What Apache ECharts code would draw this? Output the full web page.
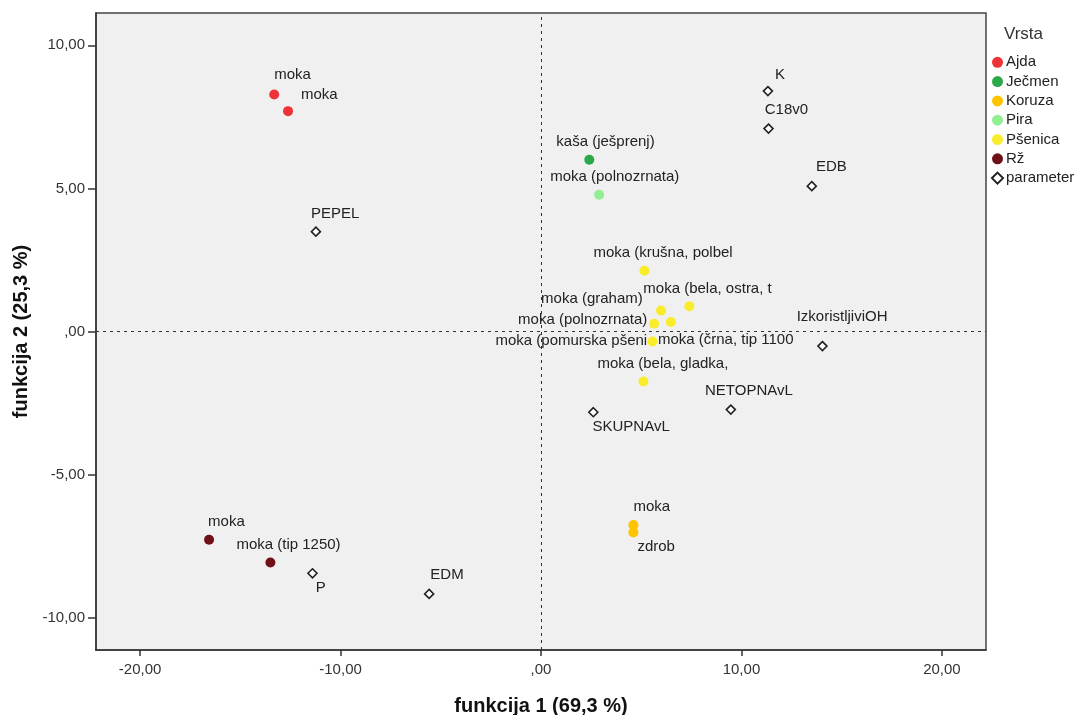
<!DOCTYPE html>
<html>
<head>
<meta charset="utf-8">
<script src="https://cdn.jsdelivr.net/npm/echarts@6/dist/echarts.min.js"></script>
<style>
html,body{margin:0;padding:0;background:#fff;}
#chart{width:1074px;height:715px;}
</style>
</head>
<body>
<div id="chart"></div>
<script>
// ---- data ----
const groups = ['Ajda', 'Ječmen', 'Koruza', 'Pira', 'Pšenica', 'Rž', 'parameter'];
const pointNames = [
  'moka', 'moka',
  'kaša (ješprenj)',
  'moka', 'zdrob',
  'moka (polnozrnata)',
  'moka (krušna, polbel', 'moka (graham)', 'moka (bela, ostra, t', 'moka (polnozrnata)',
  'moka (črna, tip 1100', 'moka (pomurska pšeni', 'moka (bela, gladka,',
  'moka', 'moka (tip 1250)',
  'K', 'C18v0', 'EDB', 'PEPEL', 'IzkoristljiviOH', 'NETOPNAvL', 'SKUPNAvL', 'P', 'EDM'
];
const pointGroup = [
  'Ajda', 'Ajda',
  'Ječmen',
  'Koruza', 'Koruza',
  'Pira',
  'Pšenica', 'Pšenica', 'Pšenica', 'Pšenica', 'Pšenica', 'Pšenica', 'Pšenica',
  'Rž', 'Rž',
  'parameter', 'parameter', 'parameter', 'parameter', 'parameter', 'parameter', 'parameter', 'parameter', 'parameter'
];
const func1 = [
  -13.31, -12.62,
  2.41,
  4.61, 4.61,
  2.90,
  5.16, 5.99, 7.40, 5.64, 6.48, 5.56, 5.11,
  -16.56, -13.50,
  11.32, 11.35, 13.51, -11.23, 14.04, 9.47, 2.61, -11.40, -5.58
];
const func2 = [
  8.28, 7.70,
  6.00,
  -6.76, -7.02,
  4.78,
  2.12, 0.73, 0.88, 0.27, 0.33, -0.35, -1.75,
  -7.28, -8.07,
  8.40, 7.09, 5.08, 3.49, -0.51, -2.73, -2.82, -8.45, -9.17
];
const xTicks = [-20, -10, 0, 10, 20];
const yTicks = [-10, -5, 0, 5, 10];

// ---- layout / style (label offsets: text left edge & vertical centre relative to the mark) ----
const labelOffsets = [
  [0, -20], [13, -16],
  [-33, -18],
  [0, -18], [4, 14],
  [-49, -18],
  [-51, -18], [-120, -12], [-46, -17], [-136, -4], [-13, 18], [-157, -1], [-46, -18],
  [-1, -18], [-34, -18],
  [8, -15], [-3, -18], [5, -18], [-4, -17], [-25, -28], [-25, -18], [0, 15], [4, 15], [2, -18]
];
const groupColors = {
  'Ajda': '#EE3338', 'Ječmen': '#2BA946', 'Koruza': '#FFC400', 'Pira': '#93EE93',
  'Pšenica': '#F9EC2B', 'Rž': '#6E1016'
};
const FONT = 'Arial, "Liberation Sans", sans-serif';

function fmt(v) {
  let s = Math.abs(v).toFixed(2).replace('.', ',');
  if (s.startsWith('0,')) s = s.slice(1);
  return (v < 0 ? '-' : '') + s;
}

const series = groups.map(function (g) {
  const isParam = g === 'parameter';
  const size = isParam ? 9 : 10;
  const data = [];
  for (let i = 0; i < pointNames.length; i++) {
    if (pointGroup[i] !== g) continue;
    const off = labelOffsets[i];
    data.push({
      value: [func1[i], func2[i]],
      name: pointNames[i],
      label: { position: [size / 2 + off[0], size / 2 + off[1]] }
    });
  }
  return {
    name: g,
    type: 'scatter',
    z: 3,
    symbol: isParam ? 'diamond' : 'circle',
    symbolSize: size,
    itemStyle: isParam
      ? { color: '#ffffff', borderColor: '#222222', borderWidth: 1.6, opacity: 1 }
      : { color: groupColors[g], opacity: 1 },
    label: {
      show: true,
      formatter: '{b}',
      align: 'left',
      verticalAlign: 'middle',
      color: '#222',
      fontSize: 15,
      fontFamily: FONT,
      textBorderWidth: 0
    },
    emphasis: { disabled: true },
    data: data
  };
});

series.push({
  name: 'zero',
  type: 'scatter',
  z: 1,
  data: [],
  markLine: {
    silent: true,
    symbol: 'none',
    animation: false,
    label: { show: false },
    lineStyle: { type: [3, 4], color: '#333', width: 1 },
    data: [{ xAxis: 0 }, { yAxis: 0 }]
  }
});

const chart = echarts.init(document.getElementById('chart'), null, { renderer: 'canvas' });
chart.setOption({
  animation: false,
  backgroundColor: '#ffffff',
  title: {
    text: 'Vrsta',
    left: 999,
    top: 21,
    textStyle: { fontSize: 17, fontWeight: 'normal', color: '#333', fontFamily: FONT }
  },
  legend: {
    data: groups.map(function (g) { return { name: g, icon: g === 'parameter' ? 'diamond' : 'circle' }; }),
    orient: 'vertical',
    left: 991,
    top: 54.8,
    itemWidth: 11,
    itemHeight: 11,
    itemGap: 4.3,
    padding: 0,
    selectedMode: false,
    textStyle: { fontSize: 15, color: '#222', fontFamily: FONT, lineHeight: 15, padding: [0, 0, 0, -2] }
  },
  grid: {
    left: 96, right: 88, top: 13, bottom: 65,
    containLabel: false,
    outerBoundsMode: 'none',
    show: true,
    backgroundColor: '#F0F0F0',
    borderColor: '#444',
    borderWidth: 1.5
  },
  xAxis: {
    type: 'value',
    min: -22.2,
    max: 22.2,
    name: 'funkcija 1 (69,3 %)',
    nameLocation: 'middle',
    nameGap: 46,
    nameTextStyle: { fontSize: 20, fontWeight: 'bold', color: '#111', fontFamily: FONT },
    axisLine: { show: true, onZero: false, lineStyle: { color: '#333', width: 1.5 } },
    axisTick: { show: true, length: 6, lineStyle: { color: '#333', width: 1.5 }, customValues: xTicks },
    axisLabel: { fontSize: 15, color: '#333', fontFamily: FONT, margin: 12, customValues: xTicks, formatter: fmt },
    splitLine: { show: false }
  },
  yAxis: {
    type: 'value',
    min: -11.13,
    max: 11.13,
    name: 'funkcija 2 (25,3 %)',
    nameLocation: 'middle',
    nameGap: 63,
    nameTextStyle: { fontSize: 20, fontWeight: 'bold', color: '#111', fontFamily: FONT },
    axisLine: { show: true, onZero: false, lineStyle: { color: '#333', width: 1.5 } },
    axisTick: { show: true, length: 8, lineStyle: { color: '#333', width: 1.5 }, customValues: yTicks },
    axisLabel: { fontSize: 15, color: '#333', fontFamily: FONT, margin: 11, customValues: yTicks, formatter: fmt },
    splitLine: { show: false }
  },
  series: series
});
</script>
</body>
</html>
